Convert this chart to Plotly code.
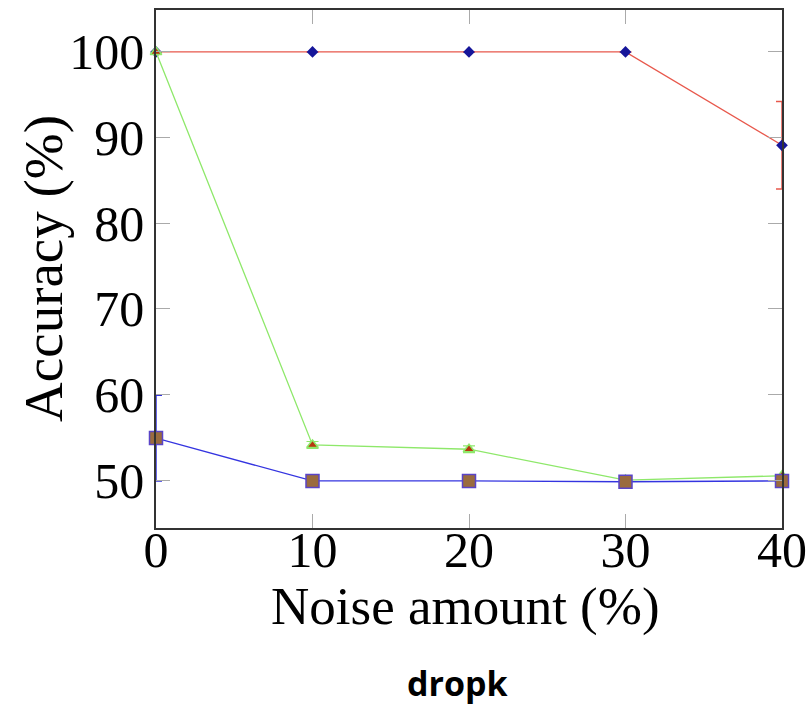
import plotly.graph_objects as go

noise = [0, 10, 20, 30, 40]
red_vals = [100, 100, 100, 100, 89.1]
red_err = [0, 0, 0, 0, 5.1]
green_vals = [100, 54.1, 53.6, 50.0, 50.5]
green_err = [0, 0.4, 0.4, 0, 0]
blue_vals = [54.9, 49.9, 49.9, 49.8, 49.9]
blue_err = [5.0, 0, 0, 0, 0]
x_ticks = [0, 10, 20, 30, 40]
y_ticks = [50, 60, 70, 80, 90, 100]

fig = go.Figure()
fig.add_trace(go.Scatter(
    x=noise, y=red_vals, mode="lines+markers",
    line=dict(color="#e8584c", width=1.3),
    marker=dict(symbol="diamond", size=9, color="#16169a", line=dict(width=0)),
    error_y=dict(type="data", array=red_err, visible=True, color="#e8584c", thickness=1.5, width=6),
    cliponaxis=False, showlegend=False))
fig.add_trace(go.Scatter(
    x=noise, y=green_vals, mode="lines+markers",
    line=dict(color="#8ee86a", width=1.3),
    marker=dict(symbol="triangle-up", size=10, color="#b8360f", line=dict(width=1.5, color="#8ee86a")),
    error_y=dict(type="data", array=green_err, visible=True, color="#8ee86a", thickness=1.2, width=6),
    cliponaxis=False, showlegend=False))
fig.add_trace(go.Scatter(
    x=noise, y=blue_vals, mode="lines+markers",
    line=dict(color="#3434e0", width=1.3),
    marker=dict(symbol="square", size=13, color="#9a6b3e", line=dict(width=1.5, color="#5a44c8")),
    error_y=dict(type="data", array=blue_err, visible=True, color="#3434e0", thickness=1.5, width=6),
    cliponaxis=False, showlegend=False))

serif = "Liberation Serif, Times New Roman, serif"
fig.update_layout(
    width=811, height=705,
    margin=dict(l=156, r=29, t=10, b=177),
    paper_bgcolor="white", plot_bgcolor="white",
    font=dict(family=serif, color="black"),
    xaxis=dict(range=[0, 40], tickvals=x_ticks, ticks="inside", ticklen=14,
               tickcolor="#aaaaaa", tickwidth=1.2, showgrid=False, zeroline=False,
               showline=True, linecolor="#333333", linewidth=1.5, mirror="ticks",
               tickfont=dict(size=50, family=serif), ticklabelstandoff=-23,
               automargin=False),
    yaxis=dict(range=[44.4, 104.9], tickvals=y_ticks, ticks="inside", ticklen=14,
               tickcolor="#aaaaaa", tickwidth=1.2, showgrid=False, zeroline=False,
               showline=True, linecolor="#333333", linewidth=1.5, mirror="ticks",
               tickfont=dict(size=50, family=serif), automargin=False),
)
fig.add_annotation(text="Accuracy (%)", xref="paper", yref="paper", x=-0.179, y=0.502,
                   xanchor="center", yanchor="middle", textangle=-90, showarrow=False,
                   font=dict(size=55, family=serif, color="black"))
fig.add_annotation(text="Noise amount (%)", xref="paper", yref="paper", x=0.495, y=-0.1525,
                   xanchor="center", yanchor="middle", showarrow=False,
                   font=dict(size=53, family=serif, color="black"))
fig.add_annotation(text="<b>dropk</b>", xref="paper", yref="paper", x=0.482, y=-0.299,
                   yanchor="middle", showarrow=False,
                   font=dict(size=34, family="Open Sans, Noto Sans, sans-serif", color="black"))
fig.write_html("out.html")
